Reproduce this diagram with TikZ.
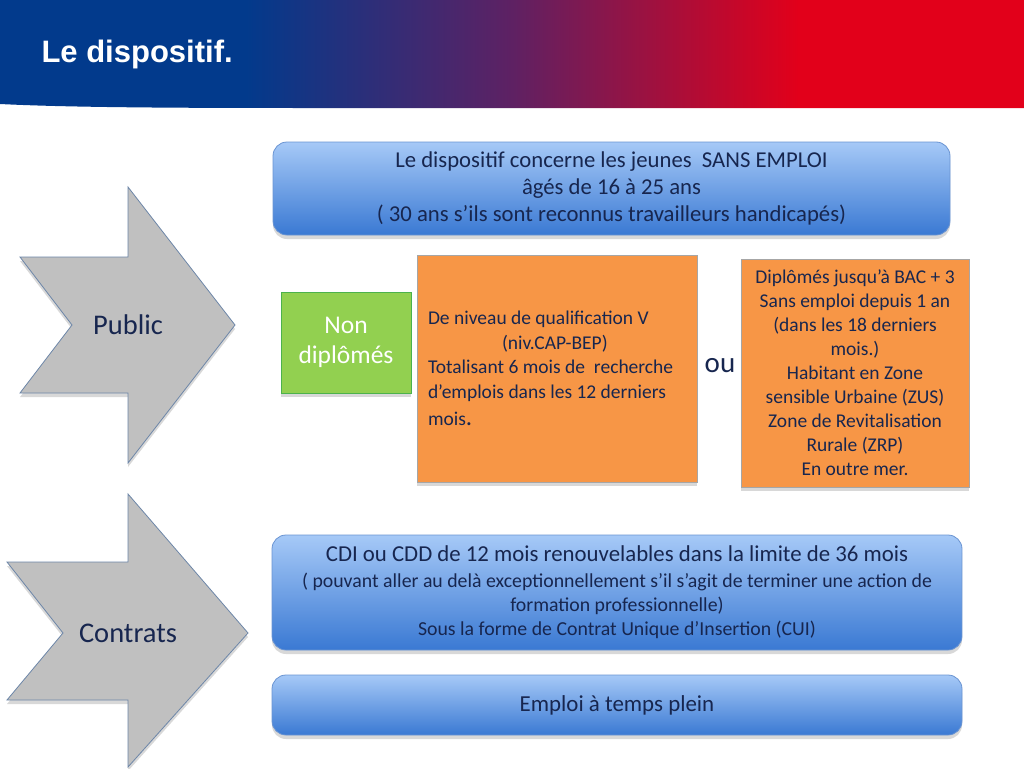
\documentclass[tikz,border=0pt]{standalone}
\usepackage{fontspec}
\setmainfont{Carlito}
\newfontfamily\titlefont{Liberation Sans}
\usetikzlibrary{shadows}
\definecolor{bandblue}{HTML}{023A8C}
\definecolor{bandpurple}{HTML}{5E2163}
\definecolor{bandred}{HTML}{E2001A}
\definecolor{boxtop}{HTML}{A6C9F7}
\definecolor{boxbot}{HTML}{3A79D3}
\definecolor{boxline}{HTML}{6A94D2}
\definecolor{navy}{HTML}{17264F}
\definecolor{orangefill}{HTML}{F79646}
\definecolor{greenfill}{HTML}{92D050}
\definecolor{arrowfill}{HTML}{C0C0C0}
\definecolor{arrowline}{HTML}{6D86A8}
\pgfdeclarehorizontalshading{bandshade}{100bp}{color(0bp)=(bandblue); color(37bp)=(bandblue); color(50bp)=(bandpurple); color(64bp)=(bandred); color(100bp)=(bandred)}
\tikzset{
  softshadow/.style={drop shadow={shadow xshift=0pt, shadow yshift=-4pt, opacity=0.3}},
  bluebox/.style={rounded corners=14, top color=boxtop, bottom color=boxbot, draw=boxline,
    line width=0.8, text=navy, align=center, softshadow},
  orangebox/.style={draw=gray!70, fill=orangefill, text=navy, line width=0.8, softshadow},
  blockarrow/.style={fill=arrowfill, draw=arrowline, line width=0.8, softshadow},
  arrowtext/.style={text=navy, font=\fontsize{28.5}{32}\selectfont}
}
\begin{document}
\begin{tikzpicture}[x=1pt, y=-1pt]
  \useasboundingbox (0,0) rectangle (1024,768);
  \fill[white] (0,0) rectangle (1024,768);
  % bandeau du titre
  \shade[shading=bandshade] (0,0) -- (1024,0) -- (1024,108) -- (300,108)
    .. controls (150,108) and (60,107) .. (0,104) -- cycle;
  \node[anchor=base west, text=white, font={\titlefont\bfseries\fontsize{31}{36}\selectfont}] (titre) at (38,63) {Le dispositif.};

  % public
  \draw[blockarrow] (20,257) -- (128,257) -- (128,187) -- (235,325) -- (128,463) -- (128,393) -- (20,393) -- (72,325) -- cycle;
  \node[arrowtext] (public) at (128,325) {Public};
  \node[bluebox, minimum width=677, minimum height=93, font=\fontsize{22.7}{27}\selectfont] (jeunes) at (611.5,188.5)
    {Le dispositif concerne les jeunes~ SANS EMPLOI\\âgés de 16 à 25 ans\\( 30 ans s’ils sont reconnus travailleurs handicapés)};
  \node[fill=greenfill, draw=gray!60!green, line width=0.8, softshadow, minimum width=130, minimum height=101,
    text=white, align=center, font=\fontsize{25.5}{30}\selectfont] (nondip) at (346,342.5) {\raisebox{-3pt}{Non}\\\raisebox{-3pt}{diplômés}};
  \node[orangebox, minimum width=280, minimum height=227, text width=258, inner xsep=11, align=flush left,
    font=\fontsize{19.5}{24.5}\selectfont] (niveau) at (557,368.5)
    {De niveau de qualification V\\\hspace*{74pt}(niv.CAP-BEP)\\Totalisant 6 mois de~ recherche\\d’emplois dans les 12 derniers\\[3pt]mois{\fontsize{25}{25}\selectfont.}};
  \node[text=navy, font=\fontsize{29}{32}\selectfont] (ou) at (720,366) {ou};
  \node[orangebox, minimum width=228, minimum height=228, align=center, font=\fontsize{19.5}{24}\selectfont] (bac) at (855,373)
    {Diplômés jusqu’à BAC + 3\\Sans emploi depuis 1 an\\(dans les 18 derniers\\mois.)\\Habitant en Zone\\sensible Urbaine (ZUS)\\Zone de Revitalisation\\Rurale (ZRP)\\En outre mer.};

  % contrats
  \draw[blockarrow] (7,562) -- (128,562) -- (128,494) -- (248,633) -- (128,767) -- (128,700) -- (7,700) -- (63,633) -- cycle;
  \node[arrowtext] (contrats) at (128,633) {Contrats};
  \node[bluebox, minimum width=690, minimum height=115, font=\fontsize{19.8}{24}\selectfont] (cdi) at (617,592.5)
    {{\fontsize{22.8}{26}\selectfont CDI ou CDD de 12 mois renouvelables dans la limite de 36 mois}\\[2pt]
     ( pouvant aller au delà exceptionnellement s’il s’agit de terminer une action de\\formation professionnelle)\\
     Sous la forme de Contrat Unique d’Insertion (CUI)};
  \node[bluebox, minimum width=690, minimum height=60, font=\fontsize{22.9}{26}\selectfont] (plein) at (617,705) {Emploi à temps plein};
\end{tikzpicture}
\end{document}
